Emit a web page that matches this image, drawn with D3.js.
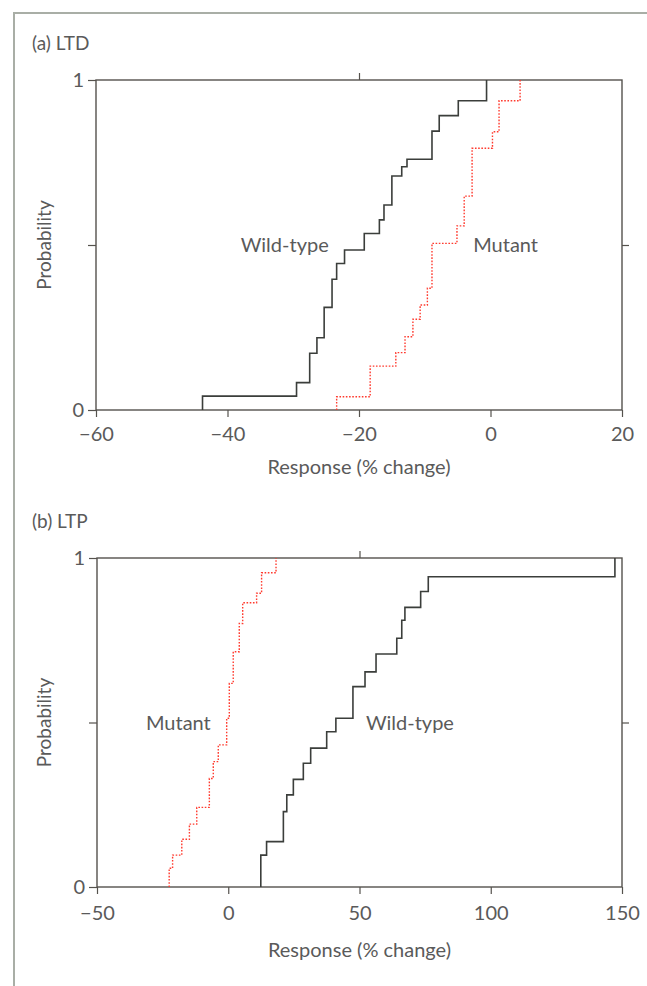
<!DOCTYPE html>
<html>
<head>
<meta charset="utf-8">
<script src="https://cdn.jsdelivr.net/npm/d3@7"></script>
<style>
  html, body { margin: 0; padding: 0; background: #fff; }
  svg { display: block; }
  text { font-family: Lato, "Open Sans", sans-serif; fill: #5a5a5a; }
</style>
</head>
<body>
<div id="chart"></div>
<script>
// LTD panel (a): cumulative probability steps [response %, probability]
const ltdTicks = [-60, -40, -20, 0, 20];
const ltdWildType = [
  [-43.8, 0.042], [-29.5, 0.083], [-27.5, 0.172], [-26.4, 0.219],
  [-25.3, 0.311], [-24.1, 0.396], [-23.4, 0.444], [-22.2, 0.485],
  [-19.2, 0.535], [-16.9, 0.576], [-16.2, 0.621], [-15.0, 0.709],
  [-13.5, 0.737], [-12.7, 0.760], [-8.9, 0.845], [-7.8, 0.892],
  [-4.9, 0.937], [-0.6, 1],
];
const ltdMutant = [
  [-23.4, 0.040], [-18.3, 0.133], [-14.4, 0.174], [-13.0, 0.222],
  [-11.8, 0.275], [-10.7, 0.318], [-9.6, 0.369], [-8.9, 0.505],
  [-5.1, 0.558], [-4.0, 0.648], [-2.8, 0.793], [0.3, 0.843],
  [1.3, 0.937], [4.5, 1],
];

// LTP panel (b)
const ltpTicks = [-50, 0, 50, 100, 150];
const ltpWildType = [
  [12.4, 0.097], [14.6, 0.138], [21.0, 0.229], [22.3, 0.280],
  [24.8, 0.327], [28.6, 0.376], [31.4, 0.422], [37.5, 0.472],
  [41.0, 0.513], [47.5, 0.609], [52.1, 0.654], [56.3, 0.708],
  [64.2, 0.756], [66.1, 0.811], [67.3, 0.850], [73.3, 0.898],
  [76.2, 0.943], [147.3, 1],
];
const ltpMutant = [
  [-22.5, 0.057], [-21.2, 0.097], [-17.7, 0.145], [-14.8, 0.191],
  [-12.0, 0.242], [-7.2, 0.330], [-5.7, 0.381], [-3.8, 0.432],
  [-0.6, 0.513], [0.4, 0.619], [1.9, 0.715], [4.2, 0.801],
  [5.5, 0.864], [10.8, 0.893], [12.7, 0.955], [18.2, 1],
];

const probTicks = [0, 0.5, 1];
const probLabels = {0: '0', 1: '1'};

const width = 647;
const height = 986;
const fontSize = 20;

const svg = d3.select('#chart').append('svg')
  .attr('width', width)
  .attr('height', height);

// page border (top and left edges of the figure box)
svg.append('path')
  .attr('d', `M14,${height} V13 H${width}`)
  .attr('fill', 'none')
  .attr('stroke', '#a9aea6')
  .attr('stroke-width', 2);

const frameColor = '#55524d';

const drawPanel = (cfg) => {
  const x = d3.scaleLinear().domain(d3.extent(cfg.ticks)).range([cfg.left, cfg.right]);
  const y = d3.scaleLinear().domain([0, 1]).range([cfg.bottom, cfg.top]);
  const g = svg.append('g').attr('class', cfg.name);

  g.append('text')
    .attr('x', 32)
    .attr('y', cfg.top - 30)
    .attr('font-size', 19)
    .text(cfg.title);

  // bottom axis
  const xAxis = g.append('g')
    .attr('transform', `translate(0,${cfg.bottom})`)
    .call(d3.axisBottom(x).tickValues(cfg.ticks).tickSize(7).tickPadding(cfg.tickPad)
      .tickFormat(d => (d < 0 ? '\u2212' + Math.abs(d) : d)));
  xAxis.select('.domain').remove();
  xAxis.selectAll('line').attr('stroke', frameColor).attr('stroke-width', 1.2);
  xAxis.selectAll('text').attr('font-size', fontSize).attr('fill', '#5a5a5a');

  // top axis: middle tick only
  const xTop = g.append('g')
    .attr('transform', `translate(0,${cfg.top})`)
    .call(d3.axisTop(x).tickValues([cfg.ticks[2]]).tickSize(7).tickFormat(''));
  xTop.select('.domain').remove();
  xTop.selectAll('line').attr('stroke', frameColor).attr('stroke-width', 1.2);

  // left axis
  const yAxis = g.append('g')
    .attr('transform', `translate(${cfg.left},0)`)
    .call(d3.axisLeft(y).tickValues(probTicks).tickSize(8).tickPadding(4)
      .tickFormat(d => probLabels[d] || ''));
  yAxis.select('.domain').remove();
  yAxis.selectAll('line').attr('stroke', frameColor).attr('stroke-width', 1.2);
  yAxis.selectAll('text').attr('font-size', fontSize).attr('fill', '#5a5a5a');

  // right axis: middle tick only
  const yRight = g.append('g')
    .attr('transform', `translate(${cfg.right},0)`)
    .call(d3.axisRight(y).tickValues([0.5]).tickSize(7).tickFormat(''));
  yRight.select('.domain').remove();
  yRight.selectAll('line').attr('stroke', frameColor).attr('stroke-width', 1.2);

  // frame
  g.append('rect')
    .attr('x', cfg.left)
    .attr('y', cfg.top)
    .attr('width', cfg.right - cfg.left)
    .attr('height', cfg.bottom - cfg.top)
    .attr('fill', 'none')
    .attr('stroke', frameColor)
    .attr('stroke-width', 1.4);

  const line = d3.line()
    .x(d => x(d[0]))
    .y(d => y(d[1]))
    .curve(d3.curveStepAfter);

  const withStart = data => [[data[0][0], 0]].concat(data);

  g.append('path')
    .attr('d', line(withStart(cfg.wild)))
    .attr('fill', 'none')
    .attr('stroke', '#3b3e3b')
    .attr('stroke-width', 1.6);

  g.append('path')
    .attr('d', line(withStart(cfg.mutant)))
    .attr('fill', 'none')
    .attr('stroke', '#ff3a2e')
    .attr('stroke-width', 1.4)
    .attr('stroke-dasharray', '1.6,1.6');

  cfg.labels.forEach((l) => {
    g.append('text')
      .attr('x', x(l.at))
      .attr('y', y(0.5))
      .attr('dy', '0.35em')
      .attr('text-anchor', 'middle')
      .attr('font-size', fontSize)
      .text(l.text);
  });

  g.append('text')
    .attr('x', (cfg.left + cfg.right) / 2)
    .attr('y', cfg.bottom + cfg.titlePad)
    .attr('text-anchor', 'middle')
    .attr('font-size', fontSize)
    .text('Response (% change)');

  g.append('text')
    .attr('transform', `translate(51,${y(0.5)}) rotate(-90)`)
    .attr('text-anchor', 'middle')
    .attr('font-size', 19)
    .text('Probability');
};

drawPanel({
  name: 'ltd', title: '(a) LTD', ticks: ltdTicks,
  left: 96, right: 622, top: 80, bottom: 410, tickPad: 10, titlePad: 64,
  wild: ltdWildType, mutant: ltdMutant,
  labels: [{text: 'Wild-type', at: -31.3}, {text: 'Mutant', at: 2.3}],
});

drawPanel({
  name: 'ltp', title: '(b) LTP', ticks: ltpTicks,
  left: 97, right: 622, top: 558, bottom: 887, tickPad: 12, titlePad: 70,
  wild: ltpWildType, mutant: ltpMutant,
  labels: [{text: 'Mutant', at: -19}, {text: 'Wild-type', at: 69.2}],
});
</script>
</body>
</html>
